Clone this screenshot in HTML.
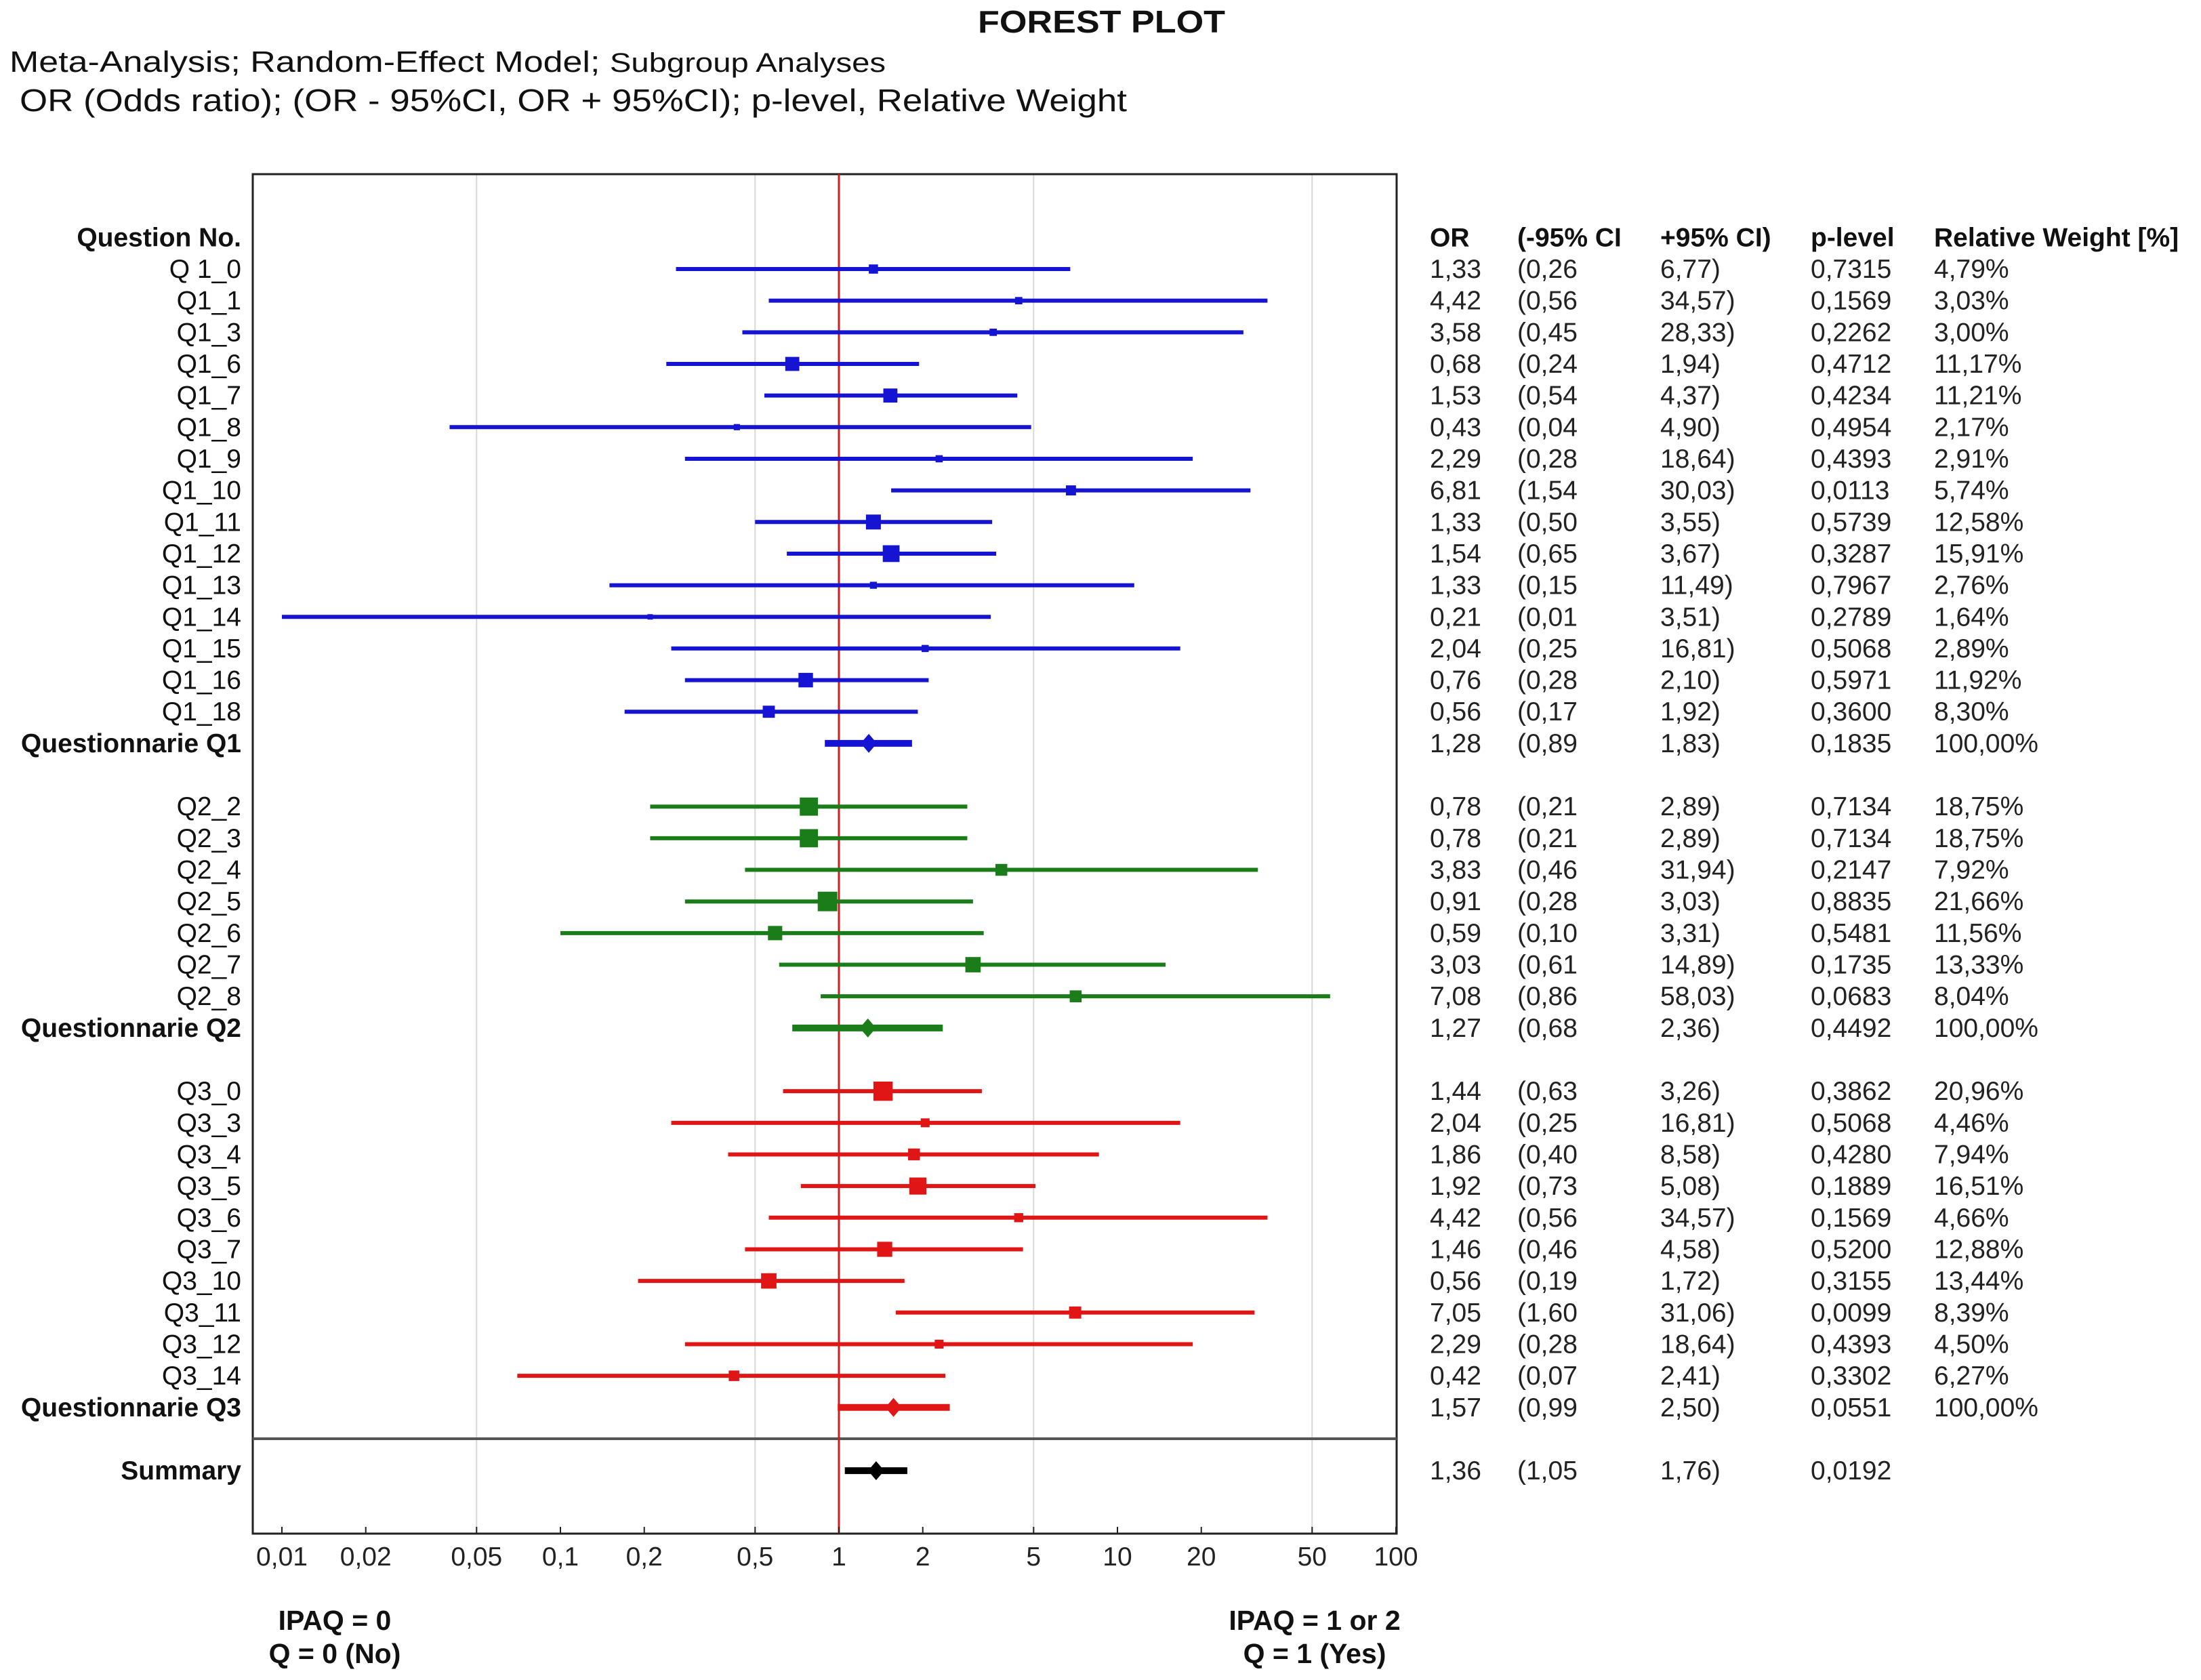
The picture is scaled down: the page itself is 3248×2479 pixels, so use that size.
<!DOCTYPE html>
<html><head><meta charset="utf-8"><style>
html,body{margin:0;padding:0;background:#fff;}
svg{display:block;font-family:"Liberation Sans",Arial,sans-serif;}
</style></head><body>
<svg id="chart" width="3248" height="2479" viewBox="0 0 3248 2479" xmlns="http://www.w3.org/2000/svg">
<rect x="0" y="0" width="3248" height="2479" fill="#fff"/>
<text x="1443" y="48" font-size="46" font-weight="bold" fill="#111" textLength="365" lengthAdjust="spacingAndGlyphs">FOREST PLOT</text>
<text x="14" y="106" font-size="44" fill="#111" textLength="1293" lengthAdjust="spacingAndGlyphs">Meta-Analysis; Random-Effect Model; <tspan font-size="40">Subgroup Analyses</tspan></text>
<text x="29" y="164" font-size="46" fill="#111" textLength="1634" lengthAdjust="spacingAndGlyphs">OR (Odds ratio);  (OR - 95%CI, OR + 95%CI); p-level, Relative Weight</text>
<g id="plot"></g>
<text x="494" y="2405" font-size="41" font-weight="bold" text-anchor="middle" fill="#111">IPAQ = 0</text>
<text x="494" y="2454" font-size="41" font-weight="bold" text-anchor="middle" fill="#111">Q = 0 (No)</text>
<text x="1940" y="2405" font-size="41" font-weight="bold" text-anchor="middle" fill="#111">IPAQ = 1 or 2</text>
<text x="1940" y="2454" font-size="41" font-weight="bold" text-anchor="middle" fill="#111">Q = 1 (Yes)</text>
</svg>
<script>
const labels = ["Q 1_0","Q1_1","Q1_3","Q1_6","Q1_7","Q1_8","Q1_9","Q1_10","Q1_11","Q1_12","Q1_13","Q1_14","Q1_15","Q1_16","Q1_18","Questionnarie Q1",
"Q2_2","Q2_3","Q2_4","Q2_5","Q2_6","Q2_7","Q2_8","Questionnarie Q2",
"Q3_0","Q3_3","Q3_4","Q3_5","Q3_6","Q3_7","Q3_10","Q3_11","Q3_12","Q3_14","Questionnarie Q3","Summary"];
const rowIndex = [1,2,3,4,5,6,7,8,9,10,11,12,13,14,15,16, 18,19,20,21,22,23,24,25, 27,28,29,30,31,32,33,34,35,36,37,39];
const group = [1,1,1,1,1,1,1,1,1,1,1,1,1,1,1,1, 2,2,2,2,2,2,2,2, 3,3,3,3,3,3,3,3,3,3,3,0];
const isSummary = [0,0,0,0,0,0,0,0,0,0,0,0,0,0,0,1, 0,0,0,0,0,0,0,1, 0,0,0,0,0,0,0,0,0,0,1,1];
const orVals = [1.33,4.42,3.58,0.68,1.53,0.43,2.29,6.81,1.33,1.54,1.33,0.21,2.04,0.76,0.56,1.28, 0.78,0.78,3.83,0.91,0.59,3.03,7.08,1.27, 1.44,2.04,1.86,1.92,4.42,1.46,0.56,7.05,2.29,0.42,1.57,1.36];
const lowVals = [0.26,0.56,0.45,0.24,0.54,0.04,0.28,1.54,0.50,0.65,0.15,0.01,0.25,0.28,0.17,0.89, 0.21,0.21,0.46,0.28,0.10,0.61,0.86,0.68, 0.63,0.25,0.40,0.73,0.56,0.46,0.19,1.60,0.28,0.07,0.99,1.05];
const highVals = [6.77,34.57,28.33,1.94,4.37,4.90,18.64,30.03,3.55,3.67,11.49,3.51,16.81,2.10,1.92,1.83, 2.89,2.89,31.94,3.03,3.31,14.89,58.03,2.36, 3.26,16.81,8.58,5.08,34.57,4.58,1.72,31.06,18.64,2.41,2.50,1.76];
const pVals = ["0,7315","0,1569","0,2262","0,4712","0,4234","0,4954","0,4393","0,0113","0,5739","0,3287","0,7967","0,2789","0,5068","0,5971","0,3600","0,1835",
"0,7134","0,7134","0,2147","0,8835","0,5481","0,1735","0,0683","0,4492",
"0,3862","0,5068","0,4280","0,1889","0,1569","0,5200","0,3155","0,0099","0,4393","0,3302","0,0551","0,0192"];
const weights = [4.79,3.03,3.00,11.17,11.21,2.17,2.91,5.74,12.58,15.91,2.76,1.64,2.89,11.92,8.30,100, 18.75,18.75,7.92,21.66,11.56,13.33,8.04,100, 20.96,4.46,7.94,16.51,4.66,12.88,13.44,8.39,4.50,6.27,100,null];
const tickValues = [0.01,0.02,0.05,0.1,0.2,0.5,1,2,5,10,20,50,100];
const tickLabels = ["0,01","0,02","0,05","0,1","0,2","0,5","1","2","5","10","20","50","100"];
const gridValues = [0.05,0.5,5,50];

const NS="http://www.w3.org/2000/svg";
const plot=document.getElementById('plot');
const L=373,R=2061,T=257,B=2263,X1=1238,DEC=411;
function xs(v){return X1+DEC*Math.log10(v);}
function ys(i){return 397+(i-1)*46.66;}
function fmt(v){return v.toFixed(2).replace('.',',');}
const colors={1:"#1414d2",2:"#1a7d1a",3:"#e01616",0:"#000"};
function mk(tag,attrs){const e=document.createElementNS(NS,tag);for(const k in attrs)e.setAttribute(k,attrs[k]);plot.appendChild(e);return e;}
const FS=39;
let e;
gridValues.forEach(g=>{e=mk('line',{x1:xs(g),x2:xs(g),y1:T,y2:B,stroke:"#d8d8d8","stroke-width":2});

});
e=mk('rect',{x:L,y:T,width:R-L,height:B-T,fill:"none",stroke:"#222","stroke-width":3});


e=mk('line',{x1:L,x2:R,y1:2123,y2:2123,stroke:"#555","stroke-width":4});


e=mk('line',{x1:xs(1),x2:xs(1),y1:T,y2:B,stroke:"#c82020","stroke-width":3});



tickValues.forEach((t,i)=>{
  e=mk('line',{x1:xs(t),x2:xs(t),y1:B-10,y2:B,stroke:"#222","stroke-width":2});
  
  
  e=mk('text',{x:xs(t),y:B+47,"font-size":FS,"text-anchor":"middle",fill:"#222"});
  e.textContent=tickLabels[i];
  
  
});

e=mk('text',{x:356,y:ys(0)+13,"font-size":FS,"font-weight":"bold","text-anchor":"end",fill:"#111"});
e.textContent="Question No.";


const cols=[2110,2239,2450,2672,2854];
const heads=["OR","(-95% CI","+95% CI)","p-level","Relative Weight [%]"];
heads.forEach((h,i)=>{e=mk('text',{x:cols[i],y:ys(0)+13,"font-size":FS,"font-weight":"bold",fill:"#111"});
e.textContent=h;

});

labels.forEach((lab,i)=>{
  const y=ys(rowIndex[i]);const c=colors[group[i]];const s=isSummary[i];
  e=mk('text',{x:356,y:y+13,"font-size":FS,"font-weight":s?"bold":"normal","text-anchor":"end",fill:"#111"});
  e.textContent=lab;
  
  
  e=mk('line',{x1:xs(lowVals[i]),x2:xs(highVals[i]),y1:y,y2:y,stroke:c,"stroke-width":s?10:6});
  
  
  const cx=xs(orVals[i]);
  if(s){
    e=mk('polygon',{points:`${cx-12},${y} ${cx},${y-14} ${cx+12},${y} ${cx},${y+14}`,fill:c});
    
    
  } else {
    const side=Math.max(6,6.2*Math.sqrt(weights[i]));
    e=mk('rect',{x:cx-side/2,y:y-side/2,width:side,height:side,fill:c});
    
    
  }
  const vals=[fmt(orVals[i]),"("+fmt(lowVals[i]),fmt(highVals[i])+")",pVals[i],weights[i]==null?"":fmt(weights[i])+"%"];
  vals.forEach((v,k)=>{e=mk('text',{x:cols[k],y:y+13,"font-size":FS,fill:"#222"});
  e.textContent=v;
  
  });
});
</script>
</body></html>
